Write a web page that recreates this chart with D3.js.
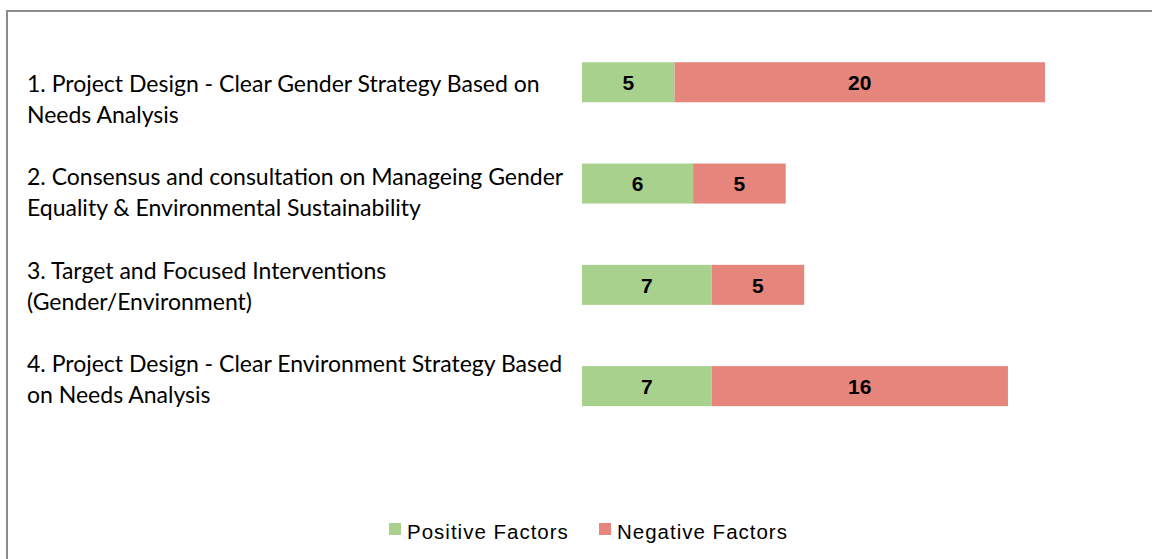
<!DOCTYPE html>
<html>
<head>
<meta charset="utf-8">
<script src="https://cdn.jsdelivr.net/npm/d3@7"></script>
<style>
  body { margin: 0; background: #fff; }
  svg { display: block; }
</style>
</head>
<body>
<div id="chart-area"></div>
<script>
// data
var categories = [
    ["1. Project Design - Clear Gender Strategy Based on", "Needs Analysis"],
    ["2. Consensus and consultation on Manageing Gender", "Equality & Environmental Sustainability"],
    ["3. Target and Focused Interventions", "(Gender/Environment)"],
    ["4. Project Design - Clear Environment Strategy Based", "on Needs Analysis"]
];
var positive = [5, 6, 7, 7];
var negative = [20, 5, 5, 16];
var seriesNames = ["Positive Factors", "Negative Factors"];
var seriesColors = ["#a9d18e", "#e6857b"];

var width = 1152, height = 559;

var svg = d3.select("#chart-area")
    .append("svg")
        .attr("width", width)
        .attr("height", height);

// outer frame (runs off right / bottom edge)
svg.append("rect")
    .attr("x", 7)
    .attr("y", 11)
    .attr("width", width + 10)
    .attr("height", height + 10)
    .attr("fill", "#fff")
    .attr("stroke", "#8c8c8c")
    .attr("stroke-width", 2);

var ids = categories.map(function(d, i) { return "c" + i; });

// Scales
var x = d3.scaleLinear()
    .domain([0, 25])
    .range([582, 1045]);

var y = d3.scaleBand()
    .domain(ids)
    .range([31.6, 436.8])
    .paddingInner(0.605)
    .paddingOuter(0.3025);

// category labels sit on their own spacing
var yLabel = d3.scalePoint()
    .domain(ids)
    .range([92, 372]);

var stacked = ids.map(function(id, i) {
    return [
        {id: id, s: 0, x0: 0, x1: positive[i], v: positive[i]},
        {id: id, s: 1, x0: positive[i], x1: positive[i] + negative[i], v: negative[i]}
    ];
});
var segs = [].concat.apply([], stacked);

var g = svg.append("g");

g.selectAll("rect.bar")
    .data(segs)
    .enter().append("rect")
        .attr("class", "bar")
        .attr("x", function(d) { return x(d.x0); })
        .attr("y", function(d) { return y(d.id); })
        .attr("width", function(d) { return x(d.x1) - x(d.x0); })
        .attr("height", y.bandwidth())
        .attr("fill", function(d) { return seriesColors[d.s]; });

g.selectAll("text.val")
    .data(segs)
    .enter().append("text")
        .attr("class", "val")
        .attr("x", function(d) { return (x(d.x0) + x(d.x1)) / 2; })
        .attr("y", function(d) { return y(d.id) + y.bandwidth() / 2; })
        .attr("dy", "0.37em")
        .attr("text-anchor", "middle")
        .attr("font-family", "'Liberation Sans', Arial, sans-serif")
        .attr("font-weight", "bold")
        .attr("font-size", "21px")
        .attr("fill", "#000")
        .text(function(d) { return d.v; });

// category labels, two lines each
var labels = g.selectAll("text.cat")
    .data(ids)
    .enter().append("text")
        .attr("class", "cat")
        .attr("x", 27)
        .attr("y", function(d) { return yLabel(d); })
        .attr("font-family", "Lato, 'Open Sans', sans-serif")
        .attr("font-size", "23px")
        .attr("fill", "#000");

labels.each(function(d, i) {
    var t = d3.select(this);
    categories[i].forEach(function(line, k) {
        t.append("tspan")
            .attr("x", 27)
            .attr("dy", k == 0 ? 0 : 31)
            .text(line);
    });
});

// Legend
var legend = svg.append("g").attr("transform", "translate(0, 539)");
var legendX = [389, 599];
seriesNames.forEach(function(name, i) {
    legend.append("rect")
        .attr("x", legendX[i])
        .attr("y", -16)
        .attr("width", 12)
        .attr("height", 12)
        .attr("fill", seriesColors[i]);
    legend.append("text")
        .attr("x", legendX[i] + 18)
        .attr("y", 0)
        .attr("font-family", "'Liberation Sans', Arial, sans-serif")
        .attr("font-size", "20.5px")
        .attr("letter-spacing", "1px")
        .attr("fill", "#000")
        .text(name);
});
</script>
</body>
</html>
